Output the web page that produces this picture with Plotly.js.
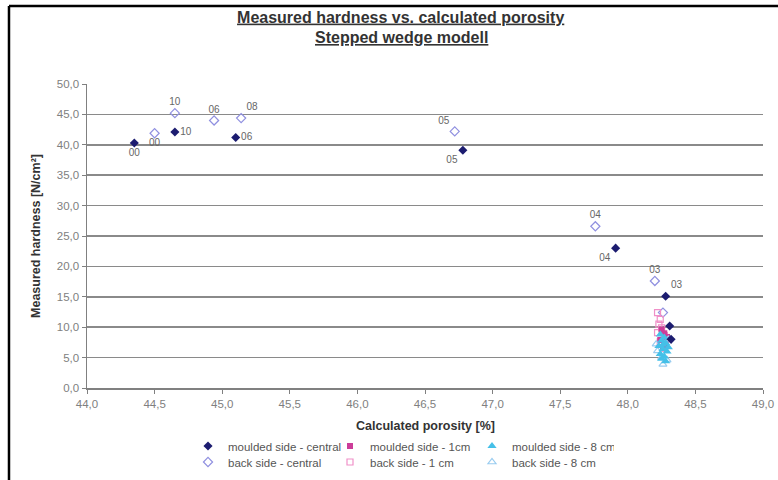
<!DOCTYPE html>
<html>
<head>
<meta charset="utf-8">
<script src="https://cdn.plot.ly/plotly-3.0.1.min.js"></script>
<style>html,body{margin:0;padding:0;background:#fff;}#chart{width:778px;height:480px;}</style>
</head>
<body>
<div id="chart"></div>
<script>
// ---- data ----
var mcX = [44.35, 44.65, 45.10, 46.78, 47.91, 48.28, 48.31, 48.32];
var mcY = [40.3, 42.1, 41.2, 39.1, 23.0, 15.1, 10.2, 8.0];
var mcLabels = ['00', '10', '06', '05', '04', '03', '', ''];

var bcX = [44.50, 44.65, 44.94, 45.14, 46.72, 47.76, 48.20, 48.26];
var bcY = [41.9, 45.2, 44.0, 44.4, 42.2, 26.6, 17.6, 12.4];
var bcLabels = ['00', '10', '06', '08', '05', '04', '03', ''];

var m1X = [48.25, 48.27, 48.29, 48.24, 48.28, 48.26];
var m1Y = [9.6, 9.0, 8.4, 7.9, 7.2, 6.5];

var b1X = [48.22, 48.24, 48.23, 48.25, 48.22, 48.27, 48.24];
var b1Y = [12.4, 11.3, 10.5, 9.9, 9.1, 8.6, 7.6];

var m8X = [48.24, 48.27, 48.25, 48.28, 48.23, 48.26, 48.29, 48.24, 48.27, 48.25, 48.28, 48.30, 48.26];
var m8Y = [8.8, 8.3, 7.8, 7.4, 6.9, 6.4, 6.0, 5.6, 5.2, 4.8, 4.4, 6.7, 7.1];

var b8X = [48.22, 48.25, 48.30, 48.21, 48.29, 48.26];
var b8Y = [6.1, 5.0, 8.0, 7.2, 4.6, 3.9];

var seriesNames = ['moulded side - central', 'moulded side - 1cm', 'moulded side - 8 cm',
                   'back side - central', 'back side - 1 cm', 'back side - 8 cm'];

var titleLine1 = 'Measured hardness vs. calculated porosity';
var titleLine2 = 'Stepped wedge modell';
var xTitle = 'Calculated porosity [%]';
var yTitle = 'Measured hardness [N/cm²]';

// ---- traces ----
var FF = 'Liberation Sans, Arial, sans-serif';
var labelFont = {family: FF, size: 10, color: '#666'};
var traces = [
  {x: bcX, y: bcY, name: seriesNames[3], legend: 'legend2', legendrank: 1,
   type: 'scatter', mode: 'markers+text', text: bcLabels,
   textposition: ['bottom center', 'top center', 'top center', 'top right', 'top left', 'top center', 'top center', 'top center'],
   textfont: labelFont, cliponaxis: false,
   marker: {symbol: 'diamond-open', size: 7, color: '#9090e0', line: {width: 1.2}}},
  {x: b1X, y: b1Y, name: seriesNames[4], legend: 'legend2', legendrank: 2,
   type: 'scatter', mode: 'markers',
   marker: {symbol: 'square-open', size: 6, color: '#f090c8', line: {width: 1.2}}},
  {x: m1X, y: m1Y, name: seriesNames[1], legendrank: 2,
   type: 'scatter', mode: 'markers',
   marker: {symbol: 'square', size: 6, color: '#cc3d99'}},
  {x: b8X, y: b8Y, name: seriesNames[5], legend: 'legend2', legendrank: 3,
   type: 'scatter', mode: 'markers',
   marker: {symbol: 'triangle-up-open', size: 7, color: '#99ccf0', line: {width: 1.2}}},
  {x: m8X, y: m8Y, name: seriesNames[2], legendrank: 3,
   type: 'scatter', mode: 'markers',
   marker: {symbol: 'triangle-up', size: 8, color: '#45c0e8'}},
  {x: mcX, y: mcY, name: seriesNames[0], legendrank: 1,
   type: 'scatter', mode: 'markers+text', text: mcLabels,
   textposition: ['bottom center', 'middle right', 'middle right', 'bottom left', 'bottom left', 'top right', 'top center', 'top center'],
   textfont: labelFont, cliponaxis: false,
   marker: {symbol: 'diamond', size: 7, color: '#1c1c70'}}
];

var gridCol = '#8a8a8a';
var tickFont = {family: FF, size: 11.5, color: '#808080'};
var legendCommon = {
  orientation: 'h', xanchor: 'left', yanchor: 'middle',
  xref: 'container', yref: 'container', x: 188 / 778,
  entrywidth: 97, entrywidthmode: 'pixels', itemwidth: 30,
  bgcolor: 'rgba(0,0,0,0)', borderwidth: 0, tracegroupgap: 0,
  font: {family: FF, size: 11.5, color: '#555'}
};
var layout = {
  width: 778, height: 480,
  margin: {l: 87, r: 15, t: 84, b: 92},
  paper_bgcolor: '#fff', plot_bgcolor: '#fff',
  separators: ',.',
  font: {family: FF, color: '#333'},
  title: {
    text: '<b><u>' + titleLine1 + '</u></b>',
    x: 0.515, xanchor: 'center', xref: 'container',
    y: 1 - 17 / 480, yanchor: 'middle', yref: 'container',
    font: {family: FF, size: 16, color: '#333'}
  },
  annotations: [
    {text: '<b><u>' + titleLine2 + '</u></b>', xref: 'paper', yref: 'paper',
     x: (401 - 87) / 676, y: (388 - 38) / 304, xanchor: 'center', yanchor: 'middle',
     showarrow: false, font: {family: FF, size: 16, color: '#333'}},
    {text: '<b>' + xTitle + '</b>', xref: 'paper', yref: 'paper',
     x: 0.5, y: (388 - 426) / 304, xanchor: 'center', yanchor: 'middle',
     showarrow: false, font: {family: FF, size: 12.5, color: '#333'}}
  ],
  xaxis: {
    range: [44, 49], dtick: 0.5, tick0: 44, tickformat: '.1f', automargin: false,
    showgrid: false, zeroline: false, showline: true, linecolor: '#808080', linewidth: 2,
    ticks: 'outside', ticklen: 4, tickcolor: '#808080', tickwidth: 1,
    tickfont: tickFont
  },
  yaxis: {
    range: [0, 50], dtick: 5, tick0: 0, tickformat: '.1f', automargin: false,
    showgrid: true, gridcolor: gridCol, gridwidth: 1.5, zeroline: false,
    showline: true, linecolor: '#808080', linewidth: 1.5,
    ticks: 'outside', ticklen: 4, tickcolor: '#808080', tickwidth: 1,
    tickfont: tickFont,
    title: {text: '<b>' + yTitle + '</b>', standoff: 13,
            font: {family: FF, size: 12.5, color: '#333'}}
  },
  legend: Object.assign({}, legendCommon, {y: 1 - 446 / 480}),
  legend2: Object.assign({}, legendCommon, {y: 1 - 462 / 480}),
  shapes: [
    {type: 'line', xref: 'paper', yref: 'paper', x0: -0.1154, x1: 1.05, y0: 1.2566, y1: 1.2566,
     line: {color: '#000', width: 2.5}},
    {type: 'line', xref: 'paper', yref: 'paper', x0: -0.1154, x1: -0.1154, y0: 1.2566, y1: -0.35,
     line: {color: '#000', width: 2.5}}
  ],
  showlegend: true
};
Plotly.newPlot('chart', traces, layout, {displayModeBar: false, staticPlot: true});
</script>
</body>
</html>
